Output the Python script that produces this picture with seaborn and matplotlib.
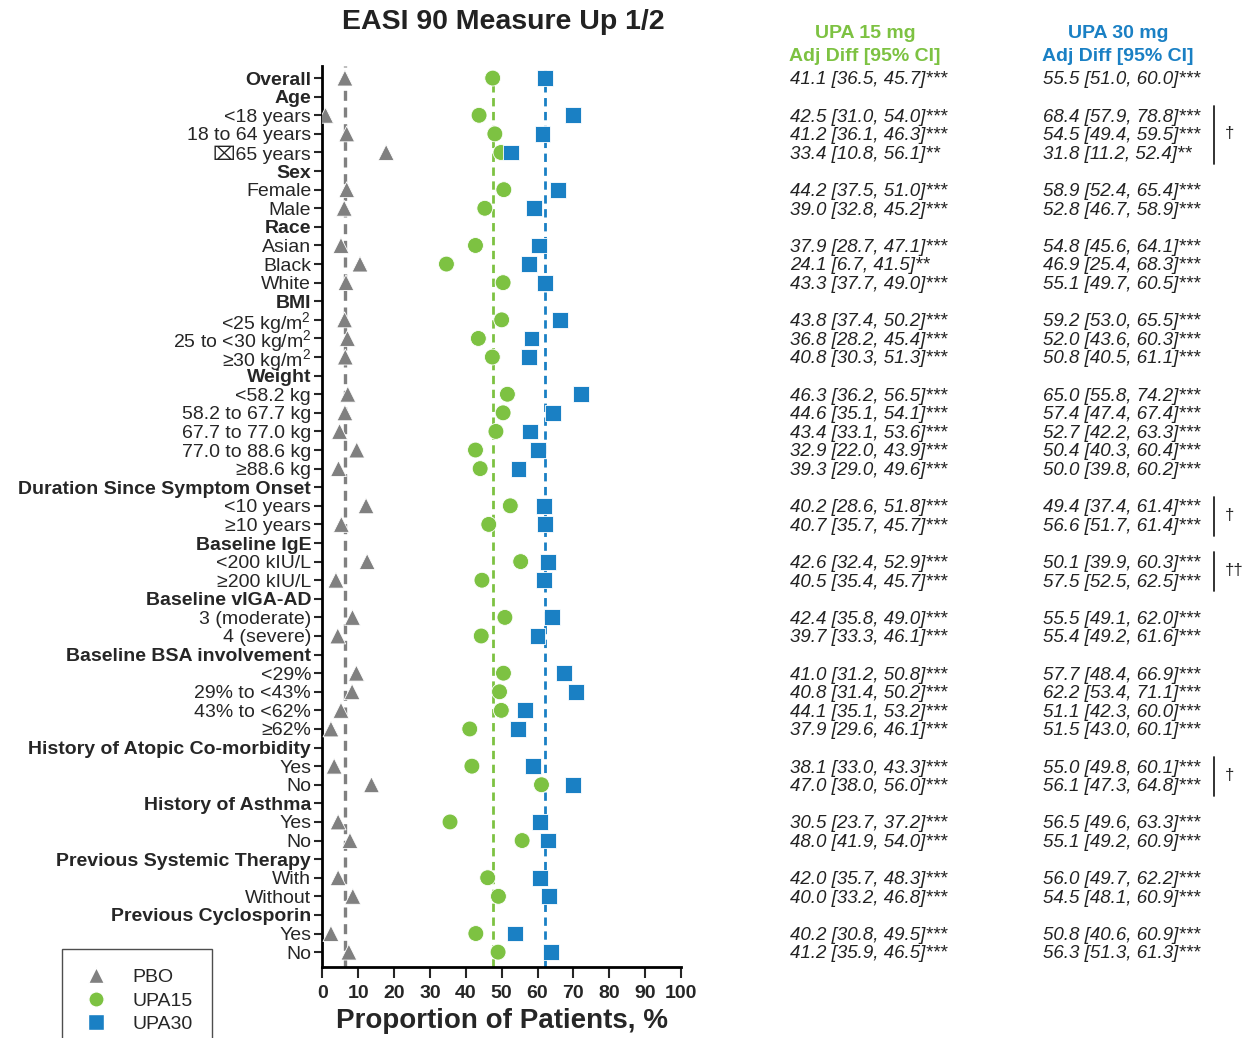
import numpy as np
import pandas as pd
import matplotlib
matplotlib.use("Agg")
import matplotlib.pyplot as plt
import matplotlib.transforms as mtransforms
from matplotlib.lines import Line2D
import seaborn as sns

nan = np.nan

labels = ["Overall", "Age", "<18 years", "18 to 64 years", "\u232765 years",
          "Sex", "Female", "Male", "Race", "Asian", "Black", "White",
          "BMI", "<25 kg/m$^2$", "25 to <30 kg/m$^2$", "\u226530 kg/m$^2$",
          "Weight", "<58.2 kg", "58.2 to 67.7 kg", "67.7 to 77.0 kg", "77.0 to 88.6 kg", "\u226588.6 kg",
          "Duration Since Symptom Onset", "<10 years", "\u226510 years",
          "Baseline IgE", "<200 kIU/L", "\u2265200 kIU/L",
          "Baseline vIGA-AD", "3 (moderate)", "4 (severe)",
          "Baseline BSA involvement", "<29%", "29% to <43%", "43% to <62%", "\u226562%",
          "History of Atopic Co-morbidity", "Yes", "No",
          "History of Asthma", "Yes", "No",
          "Previous Systemic Therapy", "With", "Without",
          "Previous Cyclosporin", "Yes", "No"]

headers = ["Overall", "Age", "Sex", "Race", "BMI", "Weight", "Duration Since Symptom Onset",
           "Baseline IgE", "Baseline vIGA-AD", "Baseline BSA involvement",
           "History of Atopic Co-morbidity", "History of Asthma",
           "Previous Systemic Therapy", "Previous Cyclosporin"]

pbo = [6.3, nan, 0.9, 6.8, 17.8, nan, 6.8, 6.1, nan, 5.2, 10.5, 6.6,
       nan, 6.2, 7.0, 6.4, nan, 7.1, 6.3, 4.8, 9.6, 4.5,
       nan, 12.2, 5.3, nan, 12.5, 3.8, nan, 8.4, 4.3,
       nan, 9.5, 8.3, 5.2, 2.4, nan, 3.3, 13.7, nan, 4.4, 7.7,
       nan, 4.4, 8.5, nan, 2.4, 7.4]
upa15 = [47.5, nan, 43.7, 48.1, 49.8, nan, 50.6, 45.3, nan, 42.7, 34.6, 50.4,
         nan, 50.0, 43.5, 47.4, nan, 51.6, 50.4, 48.4, 42.7, 44.0,
         nan, 52.4, 46.4, nan, 55.3, 44.5, nan, 50.9, 44.3,
         nan, 50.5, 49.4, 49.9, 41.1, nan, 41.7, 61.1, nan, 35.6, 55.7,
         nan, 46.1, 49.1, nan, 42.8, 49.0]
upa30 = [62.1, nan, 69.9, 61.4, 52.7, nan, 65.8, 59.1, nan, 60.4, 57.6, 62.0,
         nan, 66.2, 58.3, 57.6, nan, 72.1, 64.4, 57.8, 60.2, 54.7,
         nan, 61.8, 62.1, nan, 62.9, 61.7, nan, 64.1, 60.0,
         nan, 67.3, 70.8, 56.5, 54.5, nan, 58.8, 69.9, nan, 60.8, 62.8,
         nan, 60.6, 63.3, nan, 53.6, 63.8]

diff15 = ["41.1 [36.5, 45.7]***", "", "42.5 [31.0, 54.0]***", "41.2 [36.1, 46.3]***", "33.4 [10.8, 56.1]**",
          "", "44.2 [37.5, 51.0]***", "39.0 [32.8, 45.2]***",
          "", "37.9 [28.7, 47.1]***", "24.1 [6.7, 41.5]**", "43.3 [37.7, 49.0]***",
          "", "43.8 [37.4, 50.2]***", "36.8 [28.2, 45.4]***", "40.8 [30.3, 51.3]***",
          "", "46.3 [36.2, 56.5]***", "44.6 [35.1, 54.1]***", "43.4 [33.1, 53.6]***", "32.9 [22.0, 43.9]***", "39.3 [29.0, 49.6]***",
          "", "40.2 [28.6, 51.8]***", "40.7 [35.7, 45.7]***",
          "", "42.6 [32.4, 52.9]***", "40.5 [35.4, 45.7]***",
          "", "42.4 [35.8, 49.0]***", "39.7 [33.3, 46.1]***",
          "", "41.0 [31.2, 50.8]***", "40.8 [31.4, 50.2]***", "44.1 [35.1, 53.2]***", "37.9 [29.6, 46.1]***",
          "", "38.1 [33.0, 43.3]***", "47.0 [38.0, 56.0]***",
          "", "30.5 [23.7, 37.2]***", "48.0 [41.9, 54.0]***",
          "", "42.0 [35.7, 48.3]***", "40.0 [33.2, 46.8]***",
          "", "40.2 [30.8, 49.5]***", "41.2 [35.9, 46.5]***"]
diff30 = ["55.5 [51.0, 60.0]***", "", "68.4 [57.9, 78.8]***", "54.5 [49.4, 59.5]***", "31.8 [11.2, 52.4]**",
          "", "58.9 [52.4, 65.4]***", "52.8 [46.7, 58.9]***",
          "", "54.8 [45.6, 64.1]***", "46.9 [25.4, 68.3]***", "55.1 [49.7, 60.5]***",
          "", "59.2 [53.0, 65.5]***", "52.0 [43.6, 60.3]***", "50.8 [40.5, 61.1]***",
          "", "65.0 [55.8, 74.2]***", "57.4 [47.4, 67.4]***", "52.7 [42.2, 63.3]***", "50.4 [40.3, 60.4]***", "50.0 [39.8, 60.2]***",
          "", "49.4 [37.4, 61.4]***", "56.6 [51.7, 61.4]***",
          "", "50.1 [39.9, 60.3]***", "57.5 [52.5, 62.5]***",
          "", "55.5 [49.1, 62.0]***", "55.4 [49.2, 61.6]***",
          "", "57.7 [48.4, 66.9]***", "62.2 [53.4, 71.1]***", "51.1 [42.3, 60.0]***", "51.5 [43.0, 60.1]***",
          "", "55.0 [49.8, 60.1]***", "56.1 [47.3, 64.8]***",
          "", "56.5 [49.6, 63.3]***", "55.1 [49.2, 60.9]***",
          "", "56.0 [49.7, 62.2]***", "54.5 [48.1, 60.9]***",
          "", "50.8 [40.6, 60.9]***", "56.3 [51.3, 61.3]***"]

# brackets: (first row, last row, symbol)
brackets = [(2, 4, "\u2020"), (23, 24, "\u2020"), (26, 27, "\u2020\u2020"), (37, 38, "\u2020")]

groups = ["PBO", "UPA15", "UPA30"]
colors = {"PBO": "#808080", "UPA15": "#7dc242", "UPA30": "#1a80c4"}
markers = {"PBO": "^", "UPA15": "o", "UPA30": "s"}

rows = np.arange(len(labels))
df = pd.concat([
    pd.DataFrame({"row": rows, "value": vals, "group": g})
    for g, vals in zip(groups, [pbo, upa15, upa30])
]).dropna()

sns.set_style("ticks")
plt.rcParams["font.family"] = ["Liberation Sans", "DejaVu Sans"]
plt.rcParams["mathtext.fontset"] = "custom"
plt.rcParams["mathtext.rm"] = "Liberation Sans"

fig = plt.figure(figsize=(12.45, 10.38), dpi=100)
ax = fig.add_axes([0.2589, 0.0684, 0.2881, 0.868])

# reference lines at overall values
ax.axvline(pbo[0], color=colors["PBO"], ls=(0, (3, 2)), lw=2.4, zorder=1)
ax.axvline(upa15[0], color=colors["UPA15"], ls=(0, (3, 2)), lw=2.0, zorder=1)
ax.axvline(upa30[0], color=colors["UPA30"], ls=(0, (3, 2)), lw=2.0, zorder=1)

sns.scatterplot(data=df, x="value", y="row", hue="group", style="group",
                palette=colors, markers=markers, hue_order=groups, style_order=groups,
                s=130, edgecolor="white", linewidth=0.6, legend=False, ax=ax, zorder=3)

ax.set_xlim(0, 100)
ax.set_ylim(47.8, -0.65)
ax.set_xticks(np.arange(0, 101, 10))
ax.set_yticks(rows)
ax.set_yticklabels(labels)
for lab, tl in zip(labels, ax.get_yticklabels()):
    if lab in headers:
        tl.set_fontweight("bold")
ax.tick_params(axis="y", labelsize=14, length=6, width=1.5, pad=2)
ax.tick_params(axis="x", labelsize=14, length=8, width=1.5, pad=5)
for tl in ax.get_xticklabels():
    tl.set_fontweight("bold")
ax.set_xlabel("Proportion of Patients, %", fontsize=20, fontweight="bold", labelpad=4)
ax.set_ylabel("")
for s in ["top", "right"]:
    ax.spines[s].set_visible(False)
for s in ["left", "bottom"]:
    ax.spines[s].set_linewidth(2)
    ax.spines[s].set_color("black")

fig.text(0.404, 0.979, "EASI 90 Measure Up 1/2", fontsize=20.5, fontweight="bold",
         ha="center", va="center", color="#222222")

# right-hand columns
fig.text(0.6948, 0.968, "UPA 15 mg", color=colors["UPA15"], fontsize=14, fontweight="bold", ha="center", va="center")
fig.text(0.6948, 0.946, "Adj Diff [95% CI]", color=colors["UPA15"], fontsize=14, fontweight="bold", ha="center", va="center")
fig.text(0.898, 0.968, "UPA 30 mg", color=colors["UPA30"], fontsize=14, fontweight="bold", ha="center", va="center")
fig.text(0.898, 0.946, "Adj Diff [95% CI]", color=colors["UPA30"], fontsize=14, fontweight="bold", ha="center", va="center")

trans = mtransforms.blended_transform_factory(fig.transFigure, ax.transData)
for r, t15, t30 in zip(rows, diff15, diff30):
    if t15:
        ax.text(0.6345, r + 0.1, t15, transform=trans, fontsize=13.5, style="italic",
                ha="left", va="center", color="#222222", clip_on=False)
    if t30:
        ax.text(0.8378, r + 0.1, t30, transform=trans, fontsize=13.5, style="italic",
                ha="left", va="center", color="#222222", clip_on=False)

for r0, r1, sym in brackets:
    ax.plot([0.9755, 0.9755], [r0 - 0.5, r1 + 0.6], transform=trans, color="#222222",
            lw=1.3, clip_on=False)
    ax.text(0.984, (r0 + r1) / 2, sym, transform=trans, fontsize=12, ha="left",
            va="center", color="#222222", clip_on=False)

handles = [Line2D([], [], ls="", marker=markers[g], color=colors[g], markersize=11,
                  markeredgecolor="white", label=g) for g in groups]
leg = fig.legend(handles=handles, loc="upper left", bbox_to_anchor=(0.0498, 0.0857),
                 fontsize=14, frameon=True, fancybox=False, edgecolor="#222222",
                 handletextpad=1.1, labelspacing=0.3, borderpad=1.0, handlelength=1.5,
                 borderaxespad=0)
leg.get_frame().set_linewidth(1.0)

fig.savefig("out.png", dpi=100)
